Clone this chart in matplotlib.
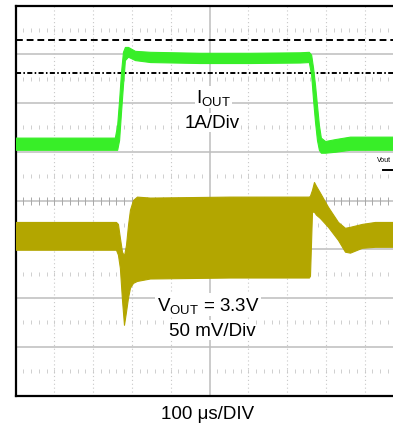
import matplotlib.pyplot as plt
import numpy as np

plt.rcParams['font.family'] = ['Liberation Sans', 'DejaVu Sans']
plt.rcParams['mathtext.fontset'] = 'custom'
plt.rcParams['mathtext.rm'] = 'Liberation Sans'
plt.rcParams['mathtext.it'] = 'Liberation Sans:italic'

# scope screen: time in us (100 us/div), y in divisions from the centre line
# I_OUT trace, upper / lower edge of the noisy band
iout_t = [0, 256, 262, 267, 272, 277, 282, 290, 308, 347, 475, 604, 733, 756,
          762, 767, 772, 777, 782, 787, 798, 824, 862, 1000]
iout_top = [1.29, 1.29, 1.55, 2.06, 2.64, 3.05, 3.15, 3.15, 3.07, 3.05, 3.03, 3.03, 3.04, 3.05,
            2.99, 2.72, 2.37, 1.96, 1.55, 1.29, 1.22, 1.26, 1.31, 1.31]
iout_bot = [1.04, 1.04, 1.04, 1.24, 1.82, 2.37, 2.88, 2.95, 2.88, 2.84, 2.82, 2.82, 2.83, 2.84,
            2.58, 2.06, 1.61, 1.24, 1.04, 0.98, 0.98, 1.00, 1.04, 1.04]

# V_OUT trace, upper / lower edge of the ripple band
vout_t = [0, 259, 264, 269, 274.5, 279.6, 284.8, 290, 295, 302.8, 313, 346.6, 553, 756.4,
          759, 764.2, 769.3, 774.5, 784.8, 805.4, 831.2, 849.2, 862.1, 893, 926.5, 1000]
vout_top = [-0.44, -0.44, -0.48, -0.76, -1.05, -1.13, -0.91, -0.50, -0.19, 0.01, 0.08, 0.06, 0.08, 0.08,
            0.10, 0.22, 0.38, 0.30, 0.16, -0.13, -0.44, -0.56, -0.54, -0.48, -0.44, -0.44]
vout_bot = [-1.01, -1.01, -1.11, -1.38, -2.04, -2.55, -2.28, -1.99, -1.79, -1.69, -1.65, -1.60, -1.58, -1.58,
            -1.54, -0.23, -0.23, -0.29, -0.36, -0.54, -0.81, -1.05, -1.07, -0.97, -0.95, -0.95]

# black cursor lines (div)
cursor_dash = 3.30
cursor_dashdot = 2.61

IOUT_COLOR = "#38ee28"
VOUT_COLOR = "#b3a600"
GRID_COLOR = "#bdbdbd"
DOT_COLOR = "#c8c8c8"
TEXT_SIZE = 13.5
LABEL_BOX = dict(facecolor="white", edgecolor="none", pad=1.0)

fig = plt.figure(figsize=(3.93, 4.27), dpi=100)
ax = fig.add_axes([15.5 / 393, 30.5 / 427, 388 / 393, 390 / 427])
ax.set_xlim(0, 1000)
ax.set_ylim(-4, 4)
ax.set_xticks([])
ax.set_yticks([])
for side in ["left", "bottom", "top"]:
    ax.spines[side].set_linewidth(1.6)
ax.spines["right"].set_visible(False)

# graticule
for y in range(-3, 4):
    ax.axhline(y, color=GRID_COLOR, lw=1.1, zorder=1)
for t in range(100, 1000, 100):
    if t == 500:
        ax.axvline(t, color=GRID_COLOR, lw=1.1, zorder=1)
    else:
        ax.axvline(t, color=DOT_COLOR, lw=0.8, ls=(0, (1, 2.5)), zorder=1)
small_t = np.arange(20, 1000, 20)
for y in np.arange(-3.5, 4, 1.0):
    ax.plot(small_t, np.full(len(small_t), y), ls="none", marker="|", ms=2.5,
            mew=0.6, color=DOT_COLOR, zorder=1)
ax.plot(small_t, np.zeros(len(small_t)), ls="none", marker="|", ms=6,
        mew=0.7, color="#a8a8a8", zorder=1)

ax.axhline(cursor_dash, color="black", lw=1.4, ls=(0, (3.5, 2)), zorder=2)
ax.axhline(cursor_dashdot, color="black", lw=1.4, ls=(0, (2.6, 1.2, 0.8, 1.2)), zorder=2)

# traces
ax.fill_between(iout_t, iout_bot, iout_top, color=IOUT_COLOR, lw=0.8, edgecolor=IOUT_COLOR, zorder=3)
ax.fill_between(vout_t, vout_bot, vout_top, color=VOUT_COLOR, lw=0.8, edgecolor=VOUT_COLOR, zorder=3)

# labels
ax.text(511, 2.02, r"$\mathrm{I_{OUT}}$", fontsize=TEXT_SIZE, ha="center", va="baseline",
        bbox=LABEL_BOX, zorder=5)
ax.text(506, 1.51, "1A/Div", fontsize=TEXT_SIZE, ha="center", va="baseline",
        bbox=LABEL_BOX, zorder=5)
ax.text(496, -2.24, r"$\mathrm{V_{OUT}}$ = 3.3V", fontsize=TEXT_SIZE, ha="center", va="baseline",
        bbox=LABEL_BOX, zorder=5)
ax.text(506, -2.75, "50 mV/Div", fontsize=TEXT_SIZE, ha="center", va="baseline",
        bbox=LABEL_BOX, zorder=5)
ax.text(931, 0.8, "Vout", fontsize=5, ha="left", va="baseline", zorder=5)
ax.plot([946, 975], [0.63, 0.63], color="black", lw=1.4, zorder=5)

fig.text(208 / 393, 8 / 427, "100 \u03bcs/DIV", fontsize=TEXT_SIZE, ha="center", va="baseline")

fig.savefig("out.png", dpi=100)
